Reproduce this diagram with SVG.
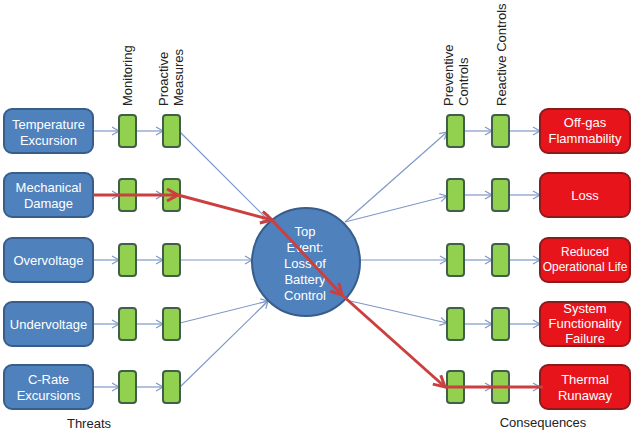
<svg xmlns="http://www.w3.org/2000/svg" width="640" height="432" viewBox="0 0 640 432">
<style>
text{font-family:"Liberation Sans",Arial,sans-serif;font-size:13px}
.w{fill:#ffffff;text-anchor:middle}
.k{fill:#222222}
.th{fill:#4f81bd;stroke:#385d8a;stroke-width:2}
.cq{fill:#e8141c;stroke:#8c1c1c;stroke-width:2}
.g{fill:#92d050;stroke:#3f5f4a;stroke-width:2}
.c{stroke:#7f98c8;stroke-width:1.2;fill:none}
.r{stroke:#cc3f3f;stroke-width:3;fill:none}
</style>
<defs>
<marker id="ab" markerUnits="userSpaceOnUse" markerWidth="12" markerHeight="12" refX="8" refY="5" orient="auto">
<path d="M1,1 L8,5 L1,9" fill="none" stroke="#7f98c8" stroke-width="1.2"/>
</marker>
<marker id="ar" markerUnits="userSpaceOnUse" markerWidth="16" markerHeight="16" refX="12" refY="7" orient="auto">
<path d="M1,1 L12,7 L1,13" fill="none" stroke="#cc3f3f" stroke-width="3"/>
</marker>
</defs>
<rect width="640" height="432" fill="#ffffff"/>

<g id="headers" class="k">
<text transform="translate(132,106) rotate(-90)">Monitoring</text>
<text transform="translate(168,106) rotate(-90)">Proactive</text>
<text transform="translate(183,106) rotate(-90)">Measures</text>
<text transform="translate(453,106) rotate(-90)">Preventive</text>
<text transform="translate(468,106) rotate(-90)">Controls</text>
<text transform="translate(506,106) rotate(-90)">Reactive Controls</text>
<text x="89" y="428" text-anchor="middle">Threats</text>
<text x="543" y="427" text-anchor="middle">Consequences</text>
</g>

<g id="connectors">
<line class="c" x1="93" y1="131" x2="119" y2="131" marker-end="url(#ab)"/>
<line class="c" x1="136" y1="131" x2="163" y2="131" marker-end="url(#ab)"/>
<line class="c" x1="93" y1="195" x2="119" y2="195" marker-end="url(#ab)"/>
<line class="c" x1="136" y1="195" x2="163" y2="195" marker-end="url(#ab)"/>
<line class="c" x1="93" y1="260" x2="119" y2="260" marker-end="url(#ab)"/>
<line class="c" x1="136" y1="260" x2="163" y2="260" marker-end="url(#ab)"/>
<line class="c" x1="93" y1="324" x2="119" y2="324" marker-end="url(#ab)"/>
<line class="c" x1="136" y1="324" x2="163" y2="324" marker-end="url(#ab)"/>
<line class="c" x1="93" y1="387" x2="119" y2="387" marker-end="url(#ab)"/>
<line class="c" x1="136" y1="387" x2="163" y2="387" marker-end="url(#ab)"/>

<line class="c" x1="180" y1="132" x2="270" y2="222" marker-end="url(#ab)"/>
<line class="c" x1="180" y1="260" x2="252" y2="260" marker-end="url(#ab)"/>
<line class="c" x1="180" y1="323" x2="268" y2="301" marker-end="url(#ab)"/>
<line class="c" x1="180" y1="387" x2="268" y2="301" marker-end="url(#ab)"/>

<line class="c" x1="345" y1="222" x2="447" y2="132" marker-end="url(#ab)"/>
<line class="c" x1="345" y1="222" x2="447" y2="196" marker-end="url(#ab)"/>
<line class="c" x1="360" y1="260" x2="447" y2="260" marker-end="url(#ab)"/>
<line class="c" x1="346" y1="300" x2="447" y2="323" marker-end="url(#ab)"/>

<line class="c" x1="464" y1="131" x2="492" y2="131" marker-end="url(#ab)"/>
<line class="c" x1="508" y1="131" x2="540" y2="131" marker-end="url(#ab)"/>
<line class="c" x1="464" y1="195" x2="492" y2="195" marker-end="url(#ab)"/>
<line class="c" x1="508" y1="195" x2="540" y2="195" marker-end="url(#ab)"/>
<line class="c" x1="464" y1="260" x2="492" y2="260" marker-end="url(#ab)"/>
<line class="c" x1="508" y1="260" x2="540" y2="260" marker-end="url(#ab)"/>
<line class="c" x1="464" y1="324" x2="492" y2="324" marker-end="url(#ab)"/>
<line class="c" x1="508" y1="324" x2="540" y2="324" marker-end="url(#ab)"/>
<line class="c" x1="464" y1="387" x2="492" y2="387" marker-end="url(#ab)"/>
<line class="c" x1="508" y1="387" x2="540" y2="387" marker-end="url(#ab)"/>
</g>

<g id="threat1"><rect class="th" x="4" y="109" width="89" height="44" rx="8"/><text class="w" x="48.5" y="129">Temperature</text><text class="w" x="48.5" y="145">Excursion</text></g>
<g id="threat2"><rect class="th" x="4" y="173" width="89" height="44" rx="8"/><text class="w" x="48.5" y="192">Mechanical</text><text class="w" x="48.5" y="208">Damage</text></g>
<g id="threat3"><rect class="th" x="4" y="238" width="89" height="44" rx="8"/><text class="w" x="48.5" y="265">Overvoltage</text></g>
<g id="threat4"><rect class="th" x="4" y="302" width="89" height="44" rx="8"/><text class="w" x="48.5" y="329">Undervoltage</text></g>
<g id="threat5"><rect class="th" x="4" y="365" width="89" height="44" rx="8"/><text class="w" x="48.5" y="384">C-Rate</text><text class="w" x="48.5" y="400">Excursions</text></g>

<g id="barriers">
<rect class="g" x="119" y="115" width="17" height="32" rx="3"/><rect class="g" x="163" y="115" width="17" height="32" rx="3"/>
<rect class="g" x="119" y="179" width="17" height="32" rx="3"/><rect class="g" x="163" y="179" width="17" height="32" rx="3"/>
<rect class="g" x="119" y="244" width="17" height="32" rx="3"/><rect class="g" x="163" y="244" width="17" height="32" rx="3"/>
<rect class="g" x="119" y="308" width="17" height="32" rx="3"/><rect class="g" x="163" y="308" width="17" height="32" rx="3"/>
<rect class="g" x="119" y="371" width="17" height="32" rx="3"/><rect class="g" x="163" y="371" width="17" height="32" rx="3"/>
<rect class="g" x="447" y="115" width="17" height="32" rx="3"/><rect class="g" x="492" y="115" width="17" height="32" rx="3"/>
<rect class="g" x="447" y="179" width="17" height="32" rx="3"/><rect class="g" x="492" y="179" width="17" height="32" rx="3"/>
<rect class="g" x="447" y="244" width="17" height="32" rx="3"/><rect class="g" x="492" y="244" width="17" height="32" rx="3"/>
<rect class="g" x="447" y="308" width="17" height="32" rx="3"/><rect class="g" x="492" y="308" width="17" height="32" rx="3"/>
<rect class="g" x="447" y="371" width="17" height="32" rx="3"/><rect class="g" x="492" y="371" width="17" height="32" rx="3"/>
</g>

<g id="top-event"><circle cx="306" cy="262" r="54" fill="#4f81bd" stroke="#385d8a" stroke-width="2"/>
<text class="w" x="305" y="236">Top</text><text class="w" x="305" y="252">Event:</text><text class="w" x="305" y="268">Loss of</text><text class="w" x="305" y="284">Battery</text><text class="w" x="305" y="300">Control</text></g>

<g id="cons1"><rect class="cq" x="540" y="109" width="90" height="44" rx="8"/><text class="w" x="585" y="127">Off-gas</text><text class="w" x="585" y="143">Flammability</text></g>
<g id="cons2"><rect class="cq" x="540" y="173" width="90" height="44" rx="8"/><text class="w" x="585" y="200">Loss</text></g>
<g id="cons3"><rect class="cq" x="540" y="238" width="90" height="44" rx="8"/><text class="w" x="585" y="256" style="font-size:12px">Reduced</text><text class="w" x="585" y="271" style="font-size:12px">Operational Life</text></g>
<g id="cons4"><rect class="cq" x="540" y="302" width="90" height="44" rx="8"/><text class="w" x="585" y="313">System</text><text class="w" x="585" y="328">Functionality</text><text class="w" x="585" y="343">Failure</text></g>
<g id="cons5"><rect class="cq" x="540" y="365" width="90" height="44" rx="8"/><text class="w" x="585" y="384">Thermal</text><text class="w" x="585" y="400">Runaway</text></g>

<g id="critical-path">
<line class="r" x1="93" y1="195" x2="178" y2="195" marker-end="url(#ar)"/>
<line class="r" x1="178" y1="195" x2="272" y2="220" marker-end="url(#ar)"/>
<line class="r" x1="272" y1="220" x2="342" y2="295" marker-end="url(#ar)"/>
<line class="r" x1="342" y1="295" x2="445" y2="387" marker-end="url(#ar)"/>
<line class="r" x1="445" y1="387" x2="543" y2="387"/>
</g>
</svg>
